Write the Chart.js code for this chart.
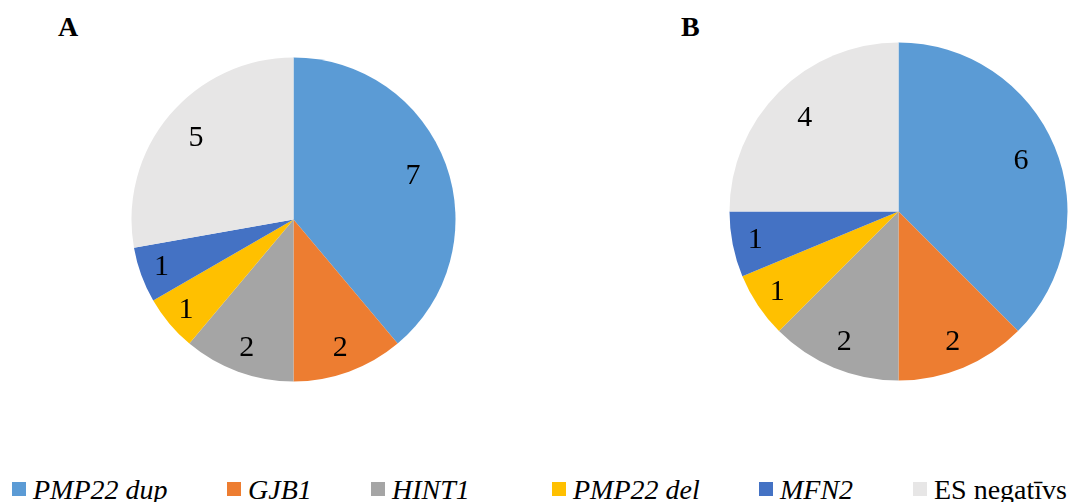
<!DOCTYPE html>
<html>
<head>
<meta charset="utf-8">
<script src="https://cdn.jsdelivr.net/npm/chart.js@4/dist/chart.umd.min.js"></script>
<style>
  html, body { margin: 0; padding: 0; background: #fff; }
  #page { position: relative; width: 1091px; height: 502px; overflow: hidden; background: #fff;
          font-family: "Liberation Serif", "Times New Roman", serif; color: #000; }
  canvas { position: absolute; }
  .panel { position: absolute; top: 13px; font-size: 28px; line-height: 28px; font-weight: bold; }
  .legend-item { position: absolute; top: 476px; height: 28px; font-size: 28px; line-height: 28px; white-space: nowrap; }
  .legend-item .box { position: absolute; left: 0; top: 6px; width: 14px; height: 14px; }
  .legend-item .txt { position: absolute; left: 21px; top: 0; }
  .legend-item .txt.gene { font-style: italic; }
</style>
</head>
<body>
<div id="page">
  <div class="panel" style="left:58px">A</div>
  <div class="panel" style="left:681px">B</div>
  <canvas id="pieA" width="339" height="339" style="left:124px; top:50px"></canvas>
  <canvas id="pieB" width="359" height="359" style="left:719px; top:32px"></canvas>
  <div id="legend"></div>
</div>
<script>
// Diagnostic groups (gene names are set in italics in the legend)
const categories = ["PMP22 dup", "GJB1", "HINT1", "PMP22 del", "MFN2", "ES negatīvs"];
const italicNames = [true, true, true, true, true, false];
// Patient counts per group
const countsA = [7, 2, 2, 1, 1, 5];
const countsB = [6, 2, 2, 1, 1, 4];
const colors = ["#5B9BD5", "#ED7D31", "#A5A5A5", "#FFC000", "#4472C4", "#E7E6E6"];

// Legend layout (left edge of each colour box)
const legendLeft = [12, 227, 371, 552, 759, 913];

const LABEL_FONT = "30px 'Liberation Serif'";

// Draws each slice's value inside the slice, further out for narrow slices
const sliceLabels = {
  id: "sliceLabels",
  afterDatasetsDraw(chart) {
    const ctx = chart.ctx;
    const meta = chart.getDatasetMeta(0);
    const values = chart.data.datasets[0].data;
    ctx.save();
    ctx.font = LABEL_FONT;
    ctx.fillStyle = "#000";
    ctx.textAlign = "center";
    ctx.textBaseline = "middle";
    meta.data.forEach((arc, i) => {
      const p = arc.getProps(["x", "y", "startAngle", "endAngle", "outerRadius"], true);
      const span = p.endAngle - p.startAngle;
      const mid = (p.startAngle + p.endAngle) / 2;
      const frac = 0.89 - 0.105 * Math.min(1, span / (Math.PI / 2));
      const d = p.outerRadius * frac;
      ctx.fillText(String(values[i]), p.x + Math.cos(mid) * d, p.y + Math.sin(mid) * d);
    });
    ctx.restore();
  }
};

function makePie(id, values, radius) {
  return new Chart(document.getElementById(id), {
    type: "pie",
    data: {
      labels: categories,
      datasets: [{
        data: values,
        backgroundColor: colors,
        borderWidth: 0,
        hoverOffset: 0,
        radius: radius
      }]
    },
    options: {
      responsive: false,
      animation: false,
      events: [],
      layout: { padding: 0 },
      plugins: { legend: { display: false }, tooltip: { enabled: false } }
    },
    plugins: [sliceLabels]
  });
}

function init() {
  makePie("pieA", countsA, 162);
  makePie("pieB", countsB, 169);

  // Shared legend along the bottom
  const legend = document.getElementById("legend");
  categories.forEach((name, i) => {
    const item = document.createElement("div");
    item.className = "legend-item";
    item.style.left = legendLeft[i] + "px";
    const box = document.createElement("span");
    box.className = "box";
    box.style.background = colors[i];
    const txt = document.createElement("span");
    txt.className = "txt" + (italicNames[i] ? " gene" : "");
    txt.textContent = name;
    item.appendChild(box);
    item.appendChild(txt);
    legend.appendChild(item);
  });
}

if (document.fonts && document.fonts.load) {
  document.fonts.load(LABEL_FONT, "0123456789").then(init, init);
} else {
  init();
}
</script>
</body>
</html>
